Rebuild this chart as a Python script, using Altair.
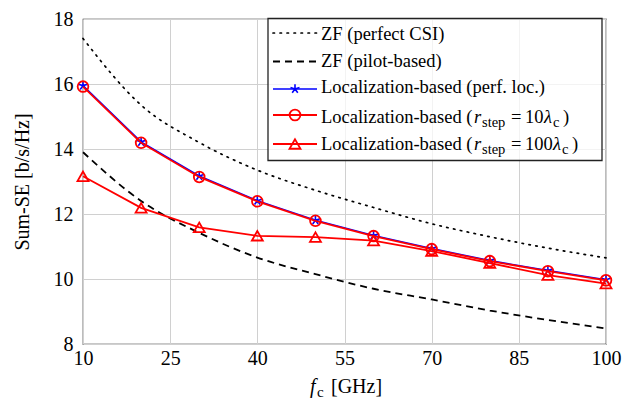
import altair as alt
import pandas as pd

# ---- data ----
freq = [10, 20, 30, 40, 50, 60, 70, 80, 90, 100]
zf_perfect = [17.4, 15.35, 14.2, 13.35, 12.73, 12.2, 11.7, 11.3, 10.95, 10.65]
zf_pilot = [13.9, 12.4, 11.42, 10.66, 10.15, 9.7, 9.37, 9.03, 8.74, 8.48]
loc_perfect = [15.95, 14.22, 13.17, 12.41, 11.81, 11.34, 10.94, 10.57, 10.26, 9.98]
loc_r10 = [15.92, 14.19, 13.14, 12.39, 11.79, 11.32, 10.92, 10.55, 10.24, 9.96]
loc_r100 = [13.16, 12.19, 11.59, 11.33, 11.29, 11.18, 10.86, 10.49, 10.12, 9.86]

x_ticks = [10, 25, 40, 55, 70, 85, 100]
y_ticks = [8, 10, 12, 14, 16, 18]

df = pd.DataFrame({
    "freq": freq,
    "zf_perfect": zf_perfect,
    "zf_pilot": zf_pilot,
    "loc_perfect": loc_perfect,
    "loc_r10": loc_r10,
    "loc_r100": loc_r100,
})

SERIF = "Liberation Serif"
BLUE = "#0000ff"
RED = "#ff0000"
STAR = "M0,0L0,-1M0,0L0.951,-0.309M0,0L0.588,0.809M0,0L-0.588,0.809M0,0L-0.951,-0.309"

TOP = 11
W, H = 523, 325
OY = 10 - (TOP + 8)  # shift so legend keeps its page position

xenc = alt.X("freq:Q",
             scale=alt.Scale(domain=[10, 100], nice=False, zero=False),
             axis=alt.Axis(values=x_ticks, title=None, grid=True, ticks=False,
                           domain=False, labelPadding=4, labelFont=SERIF,
                           labelFontSize=20, labelColor="black",
                           gridColor="#d0d0d0", labelFlush=False))

yaxis = alt.Axis(values=y_ticks, title="Sum-SE [b/s/Hz]", grid=True,
                 ticks=False, domain=False, labelPadding=10,
                 labelFont=SERIF, labelFontSize=20, labelColor="black",
                 gridColor="#d0d0d0", titleFont=SERIF, titleFontSize=20,
                 titleFontWeight="normal", titleColor="black",
                 titlePadding=21, labelFlush=False)


def yenc(col):
    return alt.Y(f"{col}:Q", scale=alt.Scale(domain=[8, 18], nice=False, zero=False),
                 axis=yaxis, title="Sum-SE [b/s/Hz]")


base = alt.Chart(df)

dotted = base.mark_line(color="black", strokeDash=[1.5, 5.5], strokeWidth=1.7,
                        strokeCap="round", interpolate="monotone").encode(
    x=xenc, y=yenc("zf_perfect"))
dashed = base.mark_line(color="black", strokeDash=[7, 5], strokeWidth=1.8,
                        interpolate="monotone").encode(x=xenc, y=yenc("zf_pilot"))

blue_line = base.mark_line(color=BLUE, strokeWidth=1.4).encode(x=xenc, y=yenc("loc_perfect"))
blue_pts = base.mark_point(shape=STAR, color=BLUE, filled=False, size=90,
                           strokeWidth=1.6, opacity=1).encode(x=xenc, y=yenc("loc_perfect"))

r10_line = base.mark_line(color=RED, strokeWidth=1.8).encode(x=xenc, y=yenc("loc_r10"))
r10_pts = base.mark_point(shape="circle", color=RED, filled=False, size=115,
                          strokeWidth=1.8, opacity=1).encode(x=xenc, y=yenc("loc_r10"))

r100_line = base.mark_line(color=RED, strokeWidth=1.8).encode(x=xenc, y=yenc("loc_r100"))
r100_pts = base.mark_point(shape="triangle-up", color=RED, filled=False, size=120,
                           strokeWidth=1.8, opacity=1).encode(x=xenc, y=yenc("loc_r100"))

one = alt.Data(values=[{"k": 1}])


def txt(s, x, y, size=18.5, style="normal"):
    return alt.Chart(one).mark_text(text=s, align="left", baseline="alphabetic",
                                    font=SERIF, fontSize=size, fontStyle=style,
                                    color="black").encode(x=alt.value(x), y=alt.value(y + OY))


def sample(y, **kw):
    return alt.Chart(one).mark_rule(**kw).encode(
        x=alt.value(190), x2=alt.value(234), y=alt.value(y + OY))


def marker(y, **kw):
    return alt.Chart(one).mark_point(filled=False, opacity=1, **kw).encode(
        x=alt.value(212), y=alt.value(y + OY))


legend_box = alt.Chart(one).mark_rect(fill="white", fillOpacity=0.75, stroke="#222",
                                      strokeWidth=1.3).encode(
    x=alt.value(185), x2=alt.value(519), y=alt.value(4.5 + OY + 4), y2=alt.value(146.5 + OY + 4))

TX = 238
L = 4  # legend vertical offset
legend = [
    legend_box,
    sample(19 + L, color="black", strokeDash=[1.5, 5.5], strokeWidth=1.7, strokeCap="round"),
    txt("ZF (perfect CSI)", TX, 25.5 + L),
    sample(47.5 + L, color="black", strokeDash=[7, 5], strokeWidth=1.8),
    txt("ZF (pilot-based)", TX, 52.7 + L),
    sample(75 + L, color=BLUE, strokeWidth=1.4),
    marker(75 + L, shape=STAR, color=BLUE, size=90, strokeWidth=1.6),
    txt("Localization-based (perf. loc.)", TX, 79.3 + L),
    sample(101 + L, color=RED, strokeWidth=1.8),
    marker(101 + L, shape="circle", color=RED, size=115, strokeWidth=1.8),
    txt("Localization-based (", TX, 109.3 + L),
    txt("r", 391, 109.3 + L, style="italic"),
    txt("step", 399, 113.3 + L, size=14.5),
    txt("=", 428, 109.3 + L),
    txt("10", 442, 109.3 + L),
    txt("λ", 461, 109.3 + L, style="italic"),
    txt("c", 470, 113.3 + L, size=14.5),
    txt(")", 480, 109.3 + L),
    sample(130 + L, color=RED, strokeWidth=1.8),
    marker(130 + L, shape="triangle-up", color=RED, size=120, strokeWidth=1.8),
    txt("Localization-based (", TX, 136 + L),
    txt("r", 391, 136 + L, style="italic"),
    txt("step", 399, 140 + L, size=14.5),
    txt("=", 428, 136 + L),
    txt("100", 442, 136 + L),
    txt("λ", 470, 136 + L, style="italic"),
    txt("c", 479, 140 + L, size=14.5),
    txt(")", 489, 136 + L),
]

xtitle = [
    txt("f", 227, 383, size=20, style="italic"),
    txt("c", 234, 387, size=15),
    txt("[GHz]", 248, 383, size=20),
]

chart = alt.layer(
    dotted, dashed, blue_line, blue_pts, r10_line, r10_pts, r100_line, r100_pts,
    *legend, *xtitle
).properties(
    width=W, height=H,
    background="white",
    autosize=alt.AutoSizeParams(type="none"),
    padding={"left": 75, "top": TOP, "right": 20, "bottom": 55},
).configure_view(
    stroke="#222", strokeWidth=1.2
)

chart.save("out.html", embed_options={"renderer": "svg", "actions": False})
